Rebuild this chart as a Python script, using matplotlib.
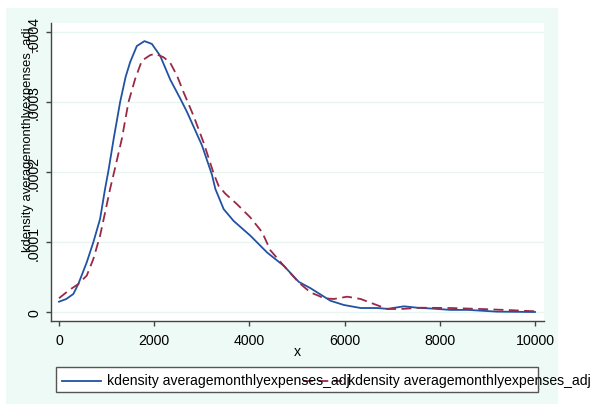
import matplotlib
matplotlib.use("Agg")
import matplotlib.pyplot as plt
from matplotlib.patches import Rectangle
from matplotlib.lines import Line2D

plt.rcParams['font.family'] = ['Liberation Sans', 'DejaVu Sans']

# kernel density estimates (y in units of 1e-5)
x_raw = [0, 150, 301, 406, 583, 723, 863, 968, 1039, 1150, 1284, 1400, 1495,
         1635, 1796, 1951, 2126, 2337, 2547, 2688, 3004, 3214, 3284, 3459,
         3670, 4021, 4372, 4723, 5038, 5284, 5495, 5705, 5986, 6337, 6688,
         6899, 7249, 7530, 7810, 8232, 8600, 9200, 10000]
dens_raw = [1.47, 1.85, 2.57, 4.0, 7.1, 10.0, 13.3, 17.6, 20.2, 24.8, 30.0,
            33.6, 35.7, 38.0, 38.7, 38.3, 36.6, 33.2, 30.5, 28.6, 23.8, 19.6,
            17.6, 14.7, 13.0, 10.9, 8.5, 6.6, 4.3, 3.4, 2.5, 1.6, 1.0, 0.57,
            0.57, 0.45, 0.81, 0.61, 0.5, 0.3, 0.3, 0.05, 0.0]

x_adj = [0, 196, 406, 583, 723, 863, 968, 1074, 1179, 1319, 1460, 1600, 1740,
         1916, 2021, 2196, 2337, 2477, 2617, 2828, 3038, 3249, 3354, 3495,
         3740, 4021, 4267, 4442, 4723, 5038, 5284, 5459, 5565, 5775, 6056,
         6337, 6617, 6899, 7179, 7600, 8232, 8863, 9565, 10000]
dens_adj = [1.96, 3.04, 4.0, 5.2, 7.6, 10.9, 14.2, 17.6, 20.6, 24.7, 30.0,
            33.3, 35.9, 36.7, 36.9, 36.4, 35.6, 33.8, 31.4, 28.0, 24.2, 19.8,
            18.0, 16.9, 15.4, 13.5, 11.4, 8.8, 6.6, 4.2, 2.8, 2.3, 1.96, 1.86,
            2.19, 1.86, 1.14, 0.43, 0.43, 0.61, 0.57, 0.43, 0.24, 0.1]

xticks = [0, 2000, 4000, 6000, 8000, 10000]
yticks = [0, 0.0001, 0.0002, 0.0003, 0.0004]
ytick_labels = ["0", ".0001", ".0002", ".0003", ".0004"]
legend_label = "kdensity averagemonthlyexpenses_adj"

blue = "#2152a3"
maroon = "#992a47"
mint = "#edfaf5"

W, H = 593, 406
fig = plt.figure(figsize=(W / 100, H / 100), dpi=100)
fig.patch.set_facecolor("white")
fig.add_artist(Rectangle((6 / W, 1 - 405 / H), 552 / W, 396 / H,
                         transform=fig.transFigure, facecolor=mint,
                         edgecolor="none", zorder=0))

ax = fig.add_axes([51 / W, 1 - 322 / H, 493 / W, 298 / H])
ax.set_facecolor("white")

ax.plot(x_raw, [v * 1e-5 for v in dens_raw], color=blue, lw=1.3,
        solid_joinstyle="round")
ax.plot(x_adj, [v * 1e-5 for v in dens_adj], color=maroon, lw=1.3,
        dashes=(5.5, 3))

ax.set_xlim(-168, 10189)
ax.set_ylim(-1.286e-5, 4.129e-4)
ax.set_xticks(xticks)
ax.set_yticks(yticks)
ax.set_yticklabels(ytick_labels, rotation=90, va="center")
ax.grid(axis="y", color="#e6f5ef", lw=1)
ax.set_axisbelow(True)

for s in ["top", "right"]:
    ax.spines[s].set_visible(False)
for s in ["left", "bottom"]:
    ax.spines[s].set_color("#444444")
    ax.spines[s].set_linewidth(1)
ax.tick_params(axis="both", colors="#444444", labelcolor="black",
               labelsize=10.2, length=3.6, width=1)
ax.tick_params(axis="y", pad=3.5)
ax.tick_params(axis="x", pad=5)
ax.set_xlabel("x", fontsize=10.2, labelpad=-2)

fig.text(28 / W, 1 - 140 / H, legend_label, rotation=90, ha="center",
         va="center", fontsize=9.4)

# legend, drawn the way the original overflows its box
fig.add_artist(Rectangle((56 / W, 1 - 393 / H), 482 / W, 25 / H,
                         transform=fig.transFigure, facecolor="white",
                         edgecolor="#555555", lw=1, zorder=2))
ly = 1 - 381.5 / H
fig.add_artist(Line2D([62 / W, 101 / W], [ly, ly], color=blue, lw=1.3,
                      transform=fig.transFigure, zorder=3))
fig.add_artist(Line2D([303 / W, 342 / W], [ly, ly], color=maroon, lw=1.3,
                      dashes=(5.5, 3), transform=fig.transFigure, zorder=3))
fig.text(107 / W, ly, legend_label, ha="left", va="center", fontsize=10.1,
         zorder=4)
fig.text(348 / W, ly, legend_label, ha="left", va="center", fontsize=10.1,
         zorder=4)

fig.savefig("out.png", dpi=100)
